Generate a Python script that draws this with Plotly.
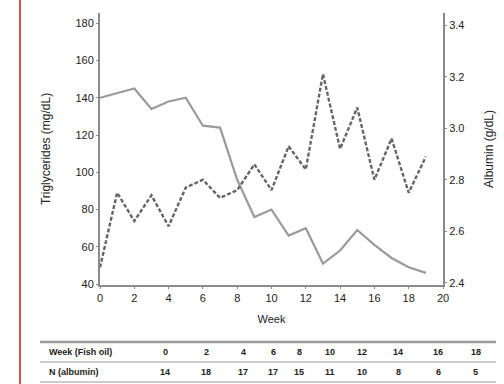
import plotly.graph_objects as go

# ---- data ----
tg_weeks = [0, 2, 3, 4, 5, 6, 7, 8, 9, 10, 11, 12, 13, 14, 15, 16, 17, 18, 19]
tg_values = [140, 145, 134, 138, 140, 125, 124, 96, 76, 80, 66, 70, 51, 58, 69, 61, 54, 49, 46]

alb_weeks = list(range(0, 20))
alb_values = [2.46, 2.75, 2.64, 2.74, 2.62, 2.77, 2.80, 2.73, 2.76, 2.86,
              2.76, 2.93, 2.84, 3.21, 2.92, 3.08, 2.80, 2.96, 2.75, 2.89]

table_weeks = ["0", "2", "4", "6", "8", "10", "12", "14", "16", "18"]
table_n = ["14", "18", "17", "17", "15", "11", "10", "8", "6", "5"]
row_labels = ["Week (Fish oil)", "N (albumin)"]

# ---- layout geometry (pixels) ----
W, H = 504, 384
L, R, T, B = 100, 443, 13, 285
def px(x):
    return (x - L) / (R - L)
def py(y):
    return (B - y) / (B - T)

FONT = "Liberation Sans Narrow, Arial Narrow, Liberation Sans, sans-serif"
TFONT = "Liberation Sans, Arial, sans-serif"
GRAY = "#8a8a8a"
TXT = "#222"

fig = go.Figure()
fig.add_trace(go.Scatter(x=tg_weeks, y=tg_values, mode="lines",
                         line=dict(color="#9a9a9a", width=2.2), yaxis="y",
                         showlegend=False))
fig.add_trace(go.Scatter(x=alb_weeks, y=alb_values, mode="lines",
                         line=dict(color="#666666", width=2.4, dash="4px,2px"),
                         yaxis="y2", showlegend=False))

axis_common = dict(showgrid=False, zeroline=False, showline=True, linecolor=GRAY,
                   linewidth=2, ticks="outside", ticklen=2, tickcolor=GRAY,
                   tickfont=dict(family=FONT, size=11, color=TXT))

fig.update_layout(
    width=W, height=H,
    margin=dict(l=L, r=W - R, t=T, b=H - B, autoexpand=False),
    paper_bgcolor="white", plot_bgcolor="white",
    xaxis=dict(range=[0, 20], tickvals=list(range(0, 21, 2)),
               title=dict(text="Week", font=dict(family=FONT, size=11, color=TXT), standoff=12),
               **axis_common),
    yaxis=dict(range=[39.5, 185.5], tickvals=list(range(40, 181, 20)),
               title=dict(text="Triglycerides (mg/dL)", font=dict(family=FONT, size=12, color=TXT),
                          standoff=22),
               **axis_common),
    yaxis2=dict(range=[2.392, 3.447], tickvals=[2.4, 2.6, 2.8, 3.0, 3.2, 3.4],
                ticktext=["2.4", "2.6", "2.8", "3.0", "3.2", "3.4"],
                overlaying="y", side="right",
                title=dict(text="Albumin (g/dL)", font=dict(family=FONT, size=12, color=TXT),
                           standoff=21),
                **axis_common),
)

shapes = []
# red vertical line at left
shapes.append(dict(type="line", xref="paper", yref="paper", x0=px(20), x1=px(20),
                   y0=py(0), y1=py(H), line=dict(color="#d9534f", width=2)))
# table rules
for yy, wdt in [(342, 2.5), (362, 1), (382, 1)]:
    shapes.append(dict(type="line", xref="paper", yref="paper", x0=px(40), x1=px(496),
                       y0=py(yy), y1=py(yy), line=dict(color="#9a9a9a", width=wdt)))
fig.update_layout(shapes=shapes)

col_x = [165, 206, 243, 273, 299, 330, 362, 398, 438, 476]
row_y = [352, 372]
ann = []
for ri, (lab, vals) in enumerate([(row_labels[0], table_weeks), (row_labels[1], table_n)]):
    ann.append(dict(x=px(47), y=py(row_y[ri]), xref="paper", yref="paper", text="<b>%s</b>" % lab,
                    showarrow=False, xanchor="left", yanchor="middle",
                    font=dict(family=TFONT, size=9, color=TXT)))
    for cx, v in zip(col_x, vals):
        ann.append(dict(x=px(cx), y=py(row_y[ri]), xref="paper", yref="paper", text="<b>%s</b>" % v,
                        showarrow=False, xanchor="center", yanchor="middle",
                        font=dict(family=TFONT, size=9, color=TXT)))
fig.update_layout(annotations=ann)

fig.write_html("out.html", config={"displayModeBar": False},
               post_script="document.body.style.margin='0';document.body.style.overflow='hidden';")
